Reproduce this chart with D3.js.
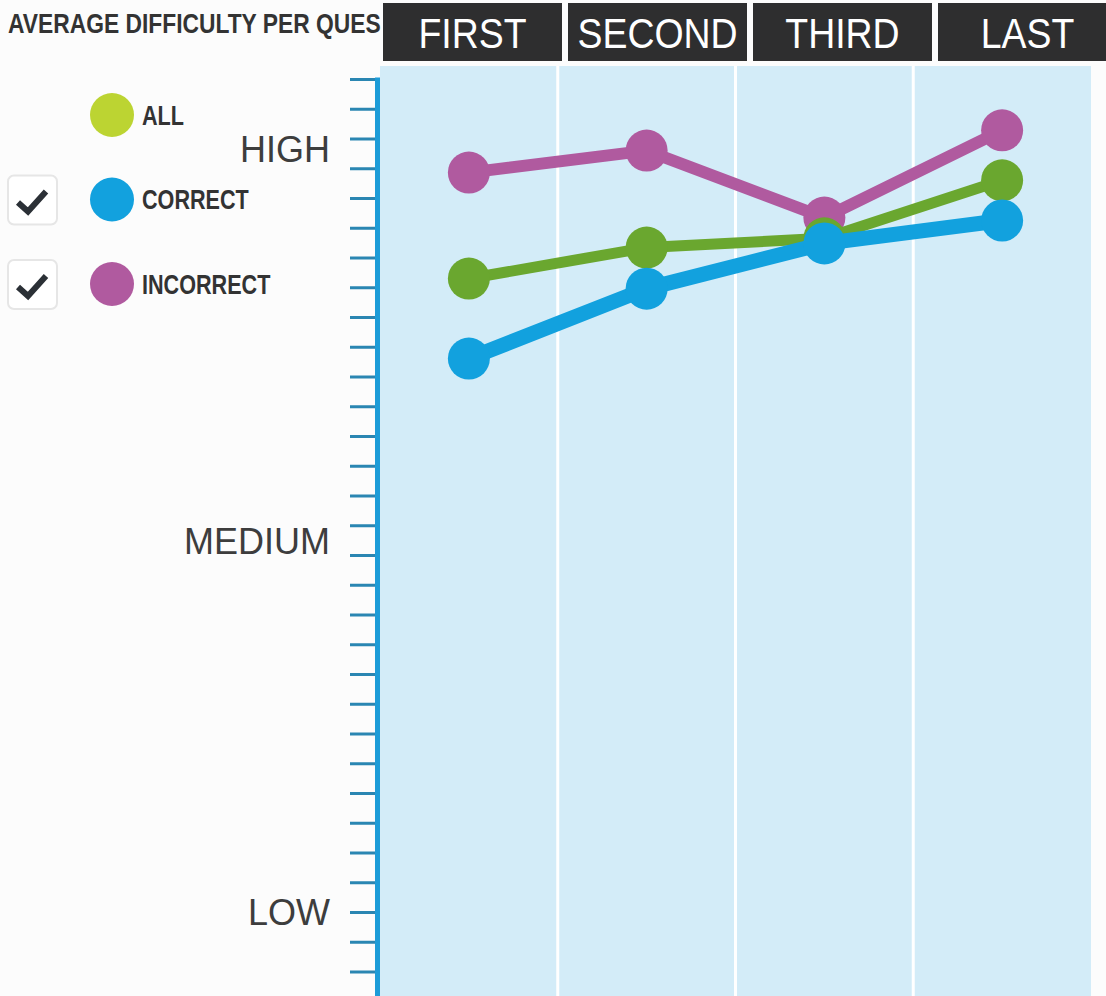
<!DOCTYPE html>
<html><head><meta charset="utf-8">
<script src="https://cdn.jsdelivr.net/npm/d3@7"></script>
<style>html,body{margin:0;padding:0;background:#fcfcfc;}svg{display:block;}</style>
</head><body>
<script>
// ---- data ----
const categories = ["FIRST", "SECOND", "THIRD", "LAST"];
const seriesNames = ["INCORRECT", "ALL", "CORRECT"]; // draw order (bottom -> top)
const incorrectValues = [24.87, 25.61, 23.36, 26.29];
const allValues = [21.31, 22.35, 22.66, 24.61];
const correctValues = [18.62, 20.97, 22.49, 23.26];
const levelLabels = ["HIGH", "MEDIUM", "LOW"];
const levelValues = [25.66, 12.5, 0];
const tickValues = d3.range(-2, 29); // minor tick marks along the axis
const legendNames = ["ALL", "CORRECT", "INCORRECT"];
const legendChecked = [false, true, true];
const titleText = "AVERAGE DIFFICULTY PER QUES";

const W = 1106, H = 996;
const colors = {ALL: "#6aa72f", CORRECT: "#12a1de", INCORRECT: "#b05a9f"};
const legendColors = {ALL: "#bcd432", CORRECT: "#12a1de", INCORRECT: "#b05a9f"};
const widths = {ALL: 11, CORRECT: 15, INCORRECT: 12};
const valuesBy = {ALL: allValues, CORRECT: correctValues, INCORRECT: incorrectValues};
const narrowFont = "'Liberation Sans Narrow','Arial Narrow','Liberation Sans',Arial,sans-serif";

const svg = d3.select("body").append("svg").attr("width", W).attr("height", H);
svg.append("rect").attr("width", W).attr("height", H).attr("fill", "#fcfcfc");

const x = d3.scaleBand().domain(categories).range([380, 1091]);
const xHead = d3.scaleBand().domain(categories).range([383, 1123]);
const y = d3.scaleLinear().domain([0, 28]).range([912.5, 79.5]);

// panel columns
svg.append("g").selectAll("rect").data(categories).join("rect")
  .attr("x", d => x(d)).attr("y", 66)
  .attr("width", x.bandwidth()).attr("height", H - 66)
  .attr("fill", "#d3ecf8");
svg.append("g").selectAll("line").data(categories.slice(1)).join("line")
  .attr("x1", d => x(d)).attr("x2", d => x(d)).attr("y1", 66).attr("y2", H)
  .attr("stroke", "#ffffff").attr("stroke-width", 3);

// title
svg.append("text")
  .attr("transform", "translate(8,33) scale(0.815,1)")
  .attr("font-family", narrowFont)
  .attr("font-weight", "bold").attr("font-size", 28).attr("fill", "#333")
  .text(titleText);

// header boxes
const head = svg.append("g").selectAll("g").data(categories).join("g");
head.append("rect").attr("x", d => xHead(d)).attr("y", 3)
  .attr("width", xHead.bandwidth() - 6).attr("height", 58).attr("fill", "#2e2e2f");
head.append("text")
  .attr("transform", d => `translate(${xHead(d) + (xHead.bandwidth() - 6) / 2},48) scale(0.87,1)`)
  .attr("text-anchor", "middle")
  .attr("font-family", narrowFont)
  .attr("font-size", 43).attr("fill", "#ffffff").text(d => d);

// axis
const axisG = svg.append("g");
axisG.selectAll("line.tick").data(tickValues).join("line").attr("class", "tick")
  .attr("x1", 350).attr("x2", 376).attr("y1", d => y(d)).attr("y2", d => y(d))
  .attr("stroke", "#2a86b2").attr("stroke-width", 3);
axisG.append("line").attr("x1", 377.5).attr("x2", 377.5).attr("y1", y(28) - 2).attr("y2", H)
  .attr("stroke", "#1c9cd8").attr("stroke-width", 5);

// level labels
svg.append("g").selectAll("text").data(levelLabels).join("text")
  .attr("x", 330).attr("y", (d, i) => y(levelValues[i])).attr("dy", "0.36em")
  .attr("text-anchor", "end")
  .attr("font-family", "'Liberation Sans',Arial,sans-serif")
  .attr("font-size", 36).attr("fill", "#3d3d3d").text(d => d);

// series
const line = d3.line().x((d, i) => x(categories[i]) + x.bandwidth() / 2).y(d => y(d));
seriesNames.forEach(name => {
  const g = svg.append("g");
  const vals = valuesBy[name];
  g.append("path").datum(vals).attr("d", line).attr("fill", "none")
    .attr("stroke", colors[name]).attr("stroke-width", widths[name]).attr("stroke-linejoin", "round");
  g.selectAll("circle").data(vals).join("circle")
    .attr("cx", (d, i) => x(categories[i]) + x.bandwidth() / 2).attr("cy", d => y(d))
    .attr("r", 21).attr("fill", colors[name]);
});

// legend
const ly = d3.scalePoint().domain(legendNames).range([115, 284]);
const leg = svg.append("g").selectAll("g").data(legendNames).join("g");
leg.append("circle").attr("cx", 112).attr("cy", d => ly(d)).attr("r", 22).attr("fill", d => legendColors[d]);
leg.append("text")
  .attr("transform", d => `translate(142,${ly(d)}) scale(0.8,1)`).attr("dy", "0.36em")
  .attr("font-family", narrowFont)
  .attr("font-weight", "bold").attr("font-size", 27).attr("fill", "#333").text(d => d);
const chk = leg.filter((d, i) => legendChecked[i]);
chk.append("rect").attr("x", 8).attr("y", d => ly(d) - 24).attr("width", 49).attr("height", 49).attr("rx", 6)
  .attr("fill", "#ffffff").attr("stroke", "#e6e6e6").attr("stroke-width", 2);
chk.append("path").attr("d", d => `M18,${ly(d) + 3} L28,${ly(d) + 12} L46,${ly(d) - 8}`)
  .attr("fill", "none").attr("stroke", "#2b3036").attr("stroke-width", 6).attr("stroke-linecap", "butt").attr("stroke-linejoin", "miter");
</script>
</body></html>
